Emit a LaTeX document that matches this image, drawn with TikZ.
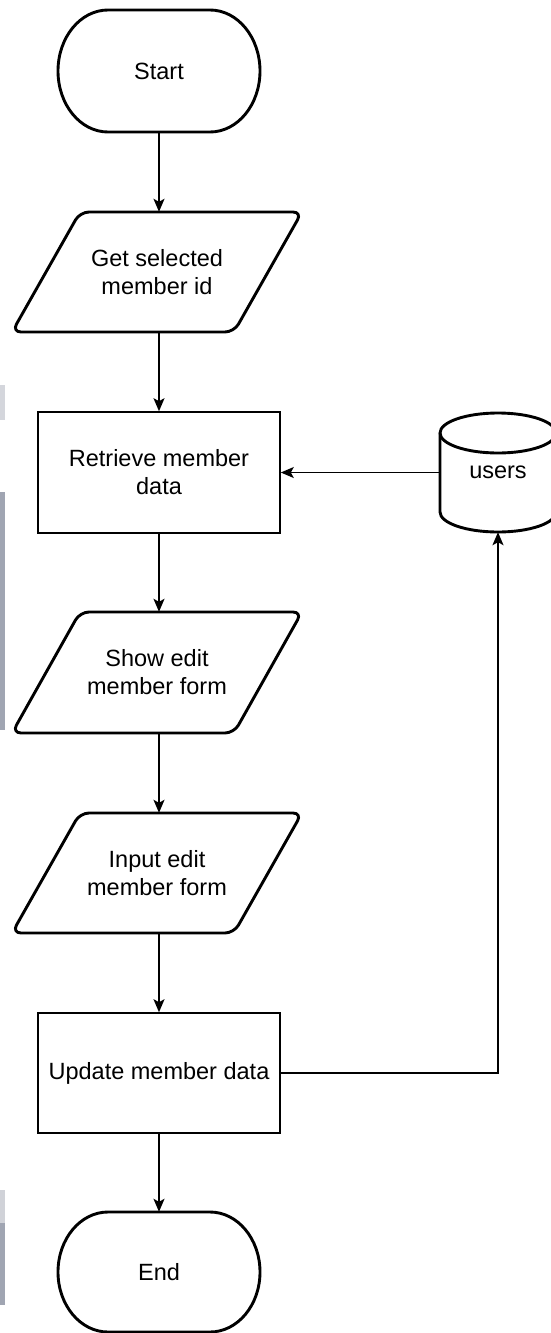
\documentclass[tikz,border=0pt]{standalone}
\usepackage{fontspec}
\setmainfont{Liberation Sans}
\usetikzlibrary{arrows.meta}
\definecolor{strip}{RGB}{160,165,178}
\begin{document}
\begin{tikzpicture}[x=1pt,y=-1pt,
  lbl/.style={align=center,font=\fontsize{23.5}{28}\selectfont,inner sep=0pt},
  thickline/.style={line width=2.9pt,line join=round},
  boxline/.style={draw,line width=1.6pt},
  conn/.style={line width=1.7pt,-{Stealth[length=13pt,width=11pt,inset=3pt]}}]
\useasboundingbox (0,0) rectangle (551,1333);
% edge artefacts
\fill[strip!45] (0,385) rectangle (5,420);
\fill[strip] (0,492) rectangle (5,730);
\fill[strip!50] (0,1190) rectangle (5,1223);
\fill[strip] (0,1223) rectangle (5,1305);
% outlines
\draw[thickline] (108,10) -- (210,10) arc[start angle=-90,end angle=90,x radius=50,y radius=61]
   -- (108,132) arc[start angle=90,end angle=270,x radius=50,y radius=61] -- cycle;
\draw[thickline,rounded corners=9pt] (80,212) -- (302,212) -- (234,332) -- (12,332) -- cycle;
\draw[thickline,rounded corners=9pt] (80,612) -- (302,612) -- (234,733) -- (12,733) -- cycle;
\draw[thickline,rounded corners=9pt] (80,813) -- (302,813) -- (234,933) -- (12,933) -- cycle;
\draw[thickline] (108,1212) -- (210,1212) arc[start angle=-90,end angle=90,x radius=50,y radius=60]
   -- (108,1332) arc[start angle=90,end angle=270,x radius=50,y radius=60] -- cycle;
\draw[thickline] (440,433) -- (440,512) arc[start angle=180,end angle=0,x radius=58,y radius=20]
   -- (556,433) arc[start angle=360,end angle=180,x radius=58,y radius=20] -- cycle;
\draw[thickline] (440,433) arc[start angle=180,end angle=0,x radius=58,y radius=20];
% nodes
\node[lbl,minimum width=202pt,minimum height=122pt] (start) at (159,71) {Start};
\node[lbl,minimum width=290pt,minimum height=120pt] (get) at (157,272) {Get selected\\member id};
\node[lbl,boxline,minimum width=242pt,minimum height=121pt] (retr) at (159,472.5) {Retrieve member\\data};
\node[lbl,minimum width=116pt,minimum height=119pt] (users) at (498,472.5) {users};
\node[lbl,minimum width=290pt,minimum height=121pt] (show) at (157,672.5) {Show edit\\member form};
\node[lbl,minimum width=290pt,minimum height=120pt] (inp) at (157,873) {Input edit\\member form};
\node[lbl,boxline,minimum width=242pt,minimum height=120pt] (upd) at (159,1073) {Update member data};
\node[lbl,minimum width=202pt,minimum height=120pt] (endn) at (159,1272) {End};
% connectors
\draw[conn] (start.south) -- (start.south |- get.north);
\draw[conn] (retr.north |- get.south) -- (retr.north);
\draw[conn] (users.west) -- (retr.east);
\draw[conn] (retr.south) -- (retr.south |- show.north);
\draw[conn] (retr.south |- show.south) -- (retr.south |- inp.north);
\draw[conn] (upd.north |- inp.south) -- (upd.north);
\draw[conn] (upd.south) -- (endn.north);
\draw[conn] (upd.east) -| (users.south);
\end{tikzpicture}
\end{document}
